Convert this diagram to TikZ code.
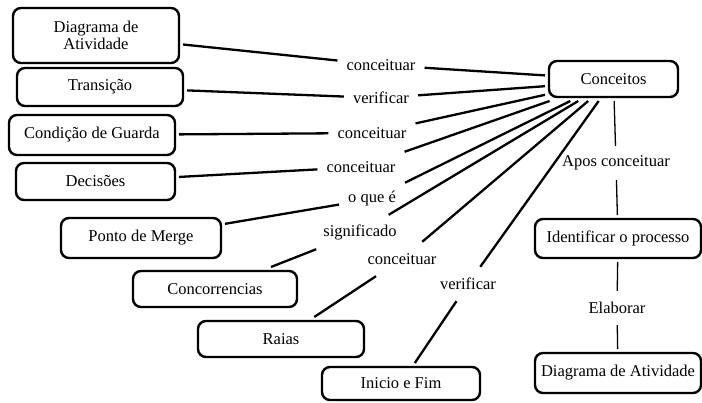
\documentclass[tikz,border=0pt]{standalone}
\usepackage{fontspec}
\setmainfont{Liberation Serif}
\begin{document}
\begin{tikzpicture}[x=1pt,y=-1pt,
  box/.style={draw, line width=2.4pt, rounded corners=8pt, inner sep=0pt, outer sep=4pt,
    font=\fontsize{16.5}{16.5}\selectfont, align=center},
  lab/.style={inner xsep=9pt, inner ysep=0pt, minimum height=34pt, font=\fontsize{16.5}{16.5}\selectfont},
  con/.style={line width=2.3pt},
  thinline/.style={line width=1.3pt}]
\useasboundingbox (0,0) rectangle (702,402);
% boxes
\node[box, minimum width=166pt, minimum height=55pt] (da1) at (96,35.5) {Diagrama de\\Atividade};
\node[box, minimum width=166pt, minimum height=38pt] (tr) at (100,87) {Transição};
\node[box, minimum width=166pt, minimum height=40pt] (cg) at (92,135) {Condição de Guarda};
\node[box, minimum width=159pt, minimum height=37pt] (de) at (95.5,181.5) {Decisões};
\node[box, minimum width=160pt, minimum height=40pt] (pm) at (141,238) {Ponto de Merge};
\node[box, minimum width=164pt, minimum height=36pt] (cc) at (215,289) {Concorrencias};
\node[box, minimum width=166pt, minimum height=36pt] (ra) at (281,339) {Raias};
\node[box, minimum width=158pt, minimum height=33pt] (ief) at (401,383.5) {Inicio e Fim};
\node[box, minimum width=129pt, minimum height=36pt] (cpt) at (613.5,79) {Conceitos};
\node[box, minimum width=166pt, minimum height=39pt] (idp) at (618,238.5) {Identificar o processo};
\node[box, minimum width=166pt, minimum height=40pt] (da2) at (618,373) {Diagrama de Atividade};
% labels
\node[lab] (l1) at (381,65) {conceituar};
\node[lab] (l2) at (381,98) {verificar};
\node[lab] (l3) at (372,133) {conceituar};
\node[lab] (l4) at (361,167) {conceituar};
\node[lab] (l5) at (372,199) {o que é};
\node[lab] (l6) at (360,232) {significado};
\node[lab] (l7) at (402,259) {conceituar};
\node[lab] (l8) at (468,284) {verificar};
\node[lab] (l9) at (616,163) {Apos conceituar};
\node[lab] (l10) at (617,308) {Elaborar};
% connectors
\draw[con] (da1) -- (l1);  \draw[con] (l1) -- (cpt.177);
\draw[con] (tr) -- (l2);   \draw[con] (l2) -- (cpt.186);
\draw[con] (cg) -- (l3);   \draw[con] (l3) -- (cpt.193);
\draw[con] (de) -- (l4);   \draw[con] (l4) -- (cpt.199);
\draw[con] (pm) -- (l5);   \draw[con] (l5) -- (cpt.207);
\draw[con] (cc) -- (l6);   \draw[con] (l6) -- (cpt.212.5);
\draw[con] (ra) -- (l7);   \draw[con] (l7) -- (cpt.221);
\draw[con] (ief) -- (l8);  \draw[con] (l8) -- (cpt.236.5);
\draw[thinline] (cpt) -- (l9);
\draw[thinline] (l9) -- (idp);
\draw[thinline] (idp) -- (l10);
\draw[thinline] (l10) -- (da2);
\end{tikzpicture}
\end{document}
